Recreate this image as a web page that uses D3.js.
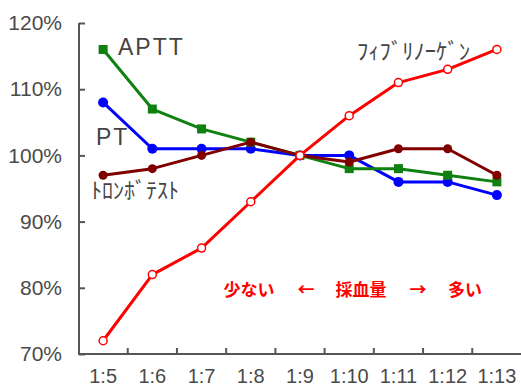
<!DOCTYPE html>
<html><head><meta charset="utf-8">
<script src="https://cdn.jsdelivr.net/npm/d3@7"></script>
<style>body{margin:0;background:#fff}svg{display:block}</style>
</head><body>
<svg id="c" width="521" height="387"></svg>
<script>
const categories = ["1:5","1:6","1:7","1:8","1:9","1:10","1:11","1:12","1:13"];
const yTicks = [70,80,90,100,110,120];
const ptValues = [108,101,101,101,100,100,96,96,94];
const apttValues = [116,107,104,102,100,98,98,97,96];
const thromboValues = [97,98,100,102,100,99,101,101,97];
const fibValues = [72,82,86,93,100,106,111,113,116];
const annotations = ["少ない","←","採血量","→","多い"];

const svg = d3.select("#c");
const x = d3.scaleBand().domain(categories).range([78.5, 521.5]).padding(0);
const y = d3.scaleLinear().domain([70,120]).range([354,23]);
const cx = d => x(d) + x.bandwidth()/2;
const axisColor = "#555";

// Y axis
const yAxis = svg.append("g").attr("transform","translate(79,0)")
  .call(d3.axisLeft(y).tickValues(yTicks).tickSize(-6).tickPadding(17).tickFormat(d => d + "%"));
yAxis.select(".domain").attr("stroke",axisColor).attr("stroke-width",2).attr("d","M0,23V354");
yAxis.selectAll(".tick line").attr("stroke",axisColor).attr("stroke-width",2);
yAxis.selectAll(".tick text").attr("fill","#4a4a4a").attr("font-family","Liberation Sans, Arial, sans-serif").attr("font-size",21);

// X axis
const xAxis = svg.append("g").attr("transform","translate(0,354)")
  .call(d3.axisBottom(x).tickSize(0).tickPadding(15));
xAxis.select(".domain").attr("stroke",axisColor).attr("stroke-width",2).attr("d","M78,0H521");
xAxis.selectAll(".tick text").attr("fill","#4a4a4a").attr("font-family","Liberation Sans, Arial, sans-serif").attr("font-size",20);
svg.append("g").selectAll("line").data(categories.slice(1)).join("line")
  .attr("x1", d => x(d)).attr("x2", d => x(d)).attr("y1",354).attr("y2",348)
  .attr("stroke",axisColor).attr("stroke-width",2);

const line = d3.line().x((d,i) => cx(categories[i])).y(d => y(d));

function series(vals, color, marker){
  const g = svg.append("g");
  g.append("path").datum(vals).attr("d", line).attr("fill","none").attr("stroke",color).attr("stroke-width",3).attr("stroke-linejoin","round");
  if (marker === "square") {
    g.selectAll("rect").data(vals).join("rect")
      .attr("x",(d,i)=>cx(categories[i])-4.5).attr("y",d=>y(d)-4.5).attr("width",9).attr("height",9).attr("fill",color);
  } else if (marker === "open") {
    g.selectAll("circle").data(vals).join("circle")
      .attr("cx",(d,i)=>cx(categories[i])).attr("cy",d=>y(d)).attr("r",4).attr("fill","#fff").attr("stroke",color).attr("stroke-width",1.5);
  } else {
    g.selectAll("circle").data(vals).join("circle")
      .attr("cx",(d,i)=>cx(categories[i])).attr("cy",d=>y(d)).attr("r",marker).attr("fill",color);
  }
}
series(ptValues, "#0000ff", 5);
series(apttValues, "#108010", "square");
series(thromboValues, "#800000", 4.5);
series(fibValues, "#ff0000", "open");

// Series labels
const lab = (t, xx, yy, opts) => {
  const el = svg.append("text").attr("x",xx).attr("y",yy).text(t)
    .attr("fill", opts.fill || "#444")
    .attr("font-family", opts.family || "Liberation Sans, Arial, sans-serif")
    .attr("font-size", opts.size);
  if (opts.ls) el.attr("letter-spacing", opts.ls);
  if (opts.len) el.attr("textLength", opts.len).attr("lengthAdjust","spacingAndGlyphs");
  return el;
};
lab("APTT", 118, 55, {size:23, ls:2});
lab("PT", 96, 145, {size:23, ls:2});
lab("ﾄﾛﾝﾎﾞﾃｽﾄ", 91, 198, {size:22, family:"Noto Sans CJK JP, sans-serif", len:88});
lab("ﾌｨﾌﾞﾘﾉｰｹﾞﾝ", 357, 59, {size:22, family:"Noto Sans CJK JP, sans-serif", len:113});

// Red annotation
const annX = [249, 306, 361, 418, 465];
svg.append("g").selectAll("text").data(annotations).join("text")
  .attr("x",(d,i)=>annX[i]).attr("y",296).attr("text-anchor","middle")
  .attr("fill","#ff0000").attr("font-weight","bold")
  .attr("font-family","Noto Sans CJK JP, sans-serif").attr("font-size",17)
  .text(d=>d);
</script>
</body></html>
